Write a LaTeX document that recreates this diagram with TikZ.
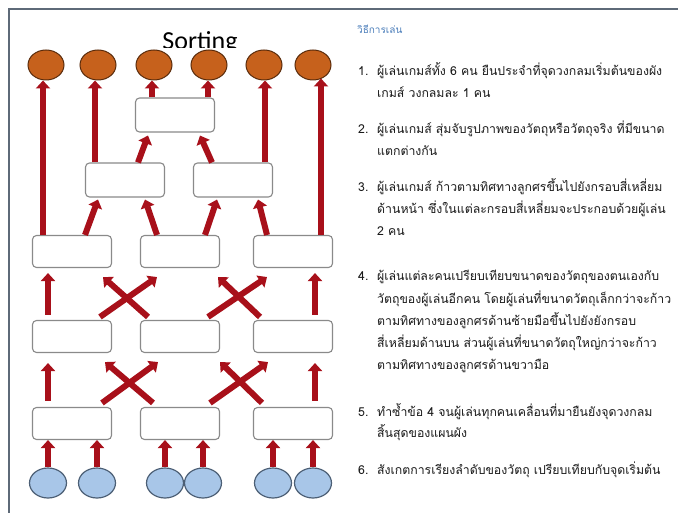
\documentclass[tikz,border=0pt]{standalone}
\usepackage{fontspec}
\setmainfont{Carlito}
\newfontfamily\thaifont[Script=Thai]{Loma}
\usetikzlibrary{arrows.meta,shapes.geometric}

\definecolor{framegray}{HTML}{5E6A78}
\definecolor{boxgray}{HTML}{8A8A8A}
\definecolor{arrowred}{HTML}{A8101A}
\definecolor{orangefill}{HTML}{C6611C}
\definecolor{orangeedge}{HTML}{5A2C0C}
\definecolor{bluefill}{HTML}{A8C6E8}
\definecolor{blueedge}{HTML}{4C5F75}
\definecolor{headblue}{HTML}{4A7DBA}
\definecolor{textgray}{HTML}{1A1A1A}

\begin{document}
\begin{tikzpicture}[x=1pt,y=-1pt,
  slot/.style={draw=boxgray, line width=1.1pt, rounded corners=4pt, fill=white,
    minimum width=79pt, minimum height=32pt, inner sep=0pt},
  finish/.style={ellipse, draw=orangeedge, fill=orangefill, line width=1pt,
    minimum width=36pt, minimum height=30pt, inner sep=0pt},
  start/.style={ellipse, draw=blueedge, fill=bluefill, line width=1.2pt,
    minimum width=37pt, minimum height=30pt, inner sep=0pt},
  ar/.style={draw=arrowred, line width=6pt, -{Triangle[width=14pt,length=8pt]}},
  numlbl/.style={anchor=base west, inner sep=0pt, text=textgray, font=\thaifont\fontsize{12.3}{14}\selectfont},
  line/.style={anchor=base west, inner sep=0pt, text=textgray, font=\thaifont\fontsize{12.3}{14}\selectfont}]
\useasboundingbox (0,0) rectangle (678,513);
\fill[white] (0,0) rectangle (678,513);

% frame
\draw[framegray, line width=1.5pt] (9,513) -- (9,9) -- (678,9);

% title (descender hidden under the top edge of the circle row)
\begin{scope}
  \clip (120,20) rectangle (280,47.5);
  \node[font=\fontsize{26}{28}\selectfont, inner sep=0pt] (title) at (200,42.5) {Sorting};
\end{scope}

% finishing circles
\node[finish] (o1) at (46,65) {};
\node[finish] (o2) at (98,65) {};
\node[finish] (o3) at (154,65) {};
\node[finish] (o4) at (209,65) {};
\node[finish] (o5) at (264,65) {};
\node[finish] (o6) at (313,65) {};

% comparison boxes
\node[slot, minimum height=34pt] (t) at (175,115) {};
\node[slot, minimum height=34pt] (r2l) at (125,180) {};
\node[slot, minimum height=34pt] (r2r) at (233,180) {};
\node[slot] (r3l) at (72,251.5) {};
\node[slot] (r3m) at (180,251.5) {};
\node[slot] (r3r) at (293,251.5) {};
\node[slot] (r4l) at (72,336.5) {};
\node[slot] (r4m) at (180,336.5) {};
\node[slot] (r4r) at (293,336.5) {};
\node[slot] (r5l) at (72,423.5) {};
\node[slot] (r5m) at (180,423.5) {};
\node[slot] (r5r) at (293,423.5) {};

% starting circles
\node[start] (b1) at (48,483) {};
\node[start] (b2) at (97,483) {};
\node[start] (b3) at (165,483) {};
\node[start] (b4) at (203,483) {};
\node[start] (b5) at (273,483) {};
\node[start] (b6) at (313,483) {};

% start -> first row
\foreach \s/\b in {b1/r5l,b2/r5l,b3/r5m,b4/r5m,b5/r5r,b6/r5r}
  \draw[ar] (\s.north) -- (\s.north |- \b.south);

% first row -> second row
\draw[ar] ([xshift=-24pt,yshift=6pt]r5l.north) -- ([xshift=-24pt,yshift=-10pt]r4l.south);
\draw[ar] ([xshift=22pt,yshift=6pt]r5r.north) -- ([xshift=22pt,yshift=-10pt]r4r.south);
\draw[ar] ([xshift=30pt,yshift=4pt]r5l.north) -- ([xshift=-22pt,yshift=-9pt]r4m.south);
\draw[ar] ([xshift=-27pt,yshift=4pt]r5m.north) -- ([xshift=33pt,yshift=-9pt]r4l.south);
\draw[ar] ([xshift=30pt,yshift=4pt]r5m.north) -- ([xshift=-25pt,yshift=-9pt]r4r.south);
\draw[ar] ([xshift=-31pt,yshift=4pt]r5r.north) -- ([xshift=40pt,yshift=-9pt]r4m.south);

% second row -> third row
\draw[ar] ([xshift=-24pt,yshift=5pt]r4l.north) -- ([xshift=-24pt,yshift=-5pt]r3l.south);
\draw[ar] ([xshift=22pt,yshift=5pt]r4r.north) -- ([xshift=22pt,yshift=-5pt]r3r.south);
\draw[ar] ([xshift=28pt,yshift=3pt]r4l.north) -- ([xshift=-23pt,yshift=-9pt]r3m.south);
\draw[ar] ([xshift=-32pt,yshift=3pt]r4m.north) -- ([xshift=31pt,yshift=-9pt]r3l.south);
\draw[ar] ([xshift=28pt,yshift=3pt]r4m.north) -- ([xshift=-26pt,yshift=-9pt]r3r.south);
\draw[ar] ([xshift=-33pt,yshift=3pt]r4r.north) -- ([xshift=38pt,yshift=-9pt]r3m.south);

% third row -> pairs
\draw[ar] ([xshift=13pt]r3l.north) -- ([xshift=-27pt,yshift=-2pt]r2l.south);
\draw[ar] ([xshift=-23pt]r3m.north) -- ([xshift=20pt,yshift=-2pt]r2l.south);
\draw[ar] ([xshift=25pt]r3m.north) -- ([xshift=-16pt,yshift=-2pt]r2r.south);
\draw[ar] ([xshift=-26pt]r3r.north) -- ([xshift=25pt,yshift=-2pt]r2r.south);

% pairs -> top box
\draw[ar] ([xshift=13pt]r2l.north) -- ([xshift=-27pt,yshift=-3pt]t.south);
\draw[ar] ([xshift=-21pt]r2r.north) -- ([xshift=25pt,yshift=-3pt]t.south);

% up to the finishing circles
\draw[ar] ([xshift=-3pt]o1.south |- r3l.north) -- ([xshift=-3pt]o1.south);
\draw[ar] ([xshift=-3pt]o2.south |- r2l.north) -- ([xshift=-3pt]o2.south);
\draw[ar] ([xshift=-2pt]o3.south |- t.north) -- ([xshift=-2pt]o3.south);
\draw[ar] ([xshift=-1pt]o4.south |- t.north) -- ([xshift=-1pt]o4.south);
\draw[ar] ([xshift=1pt]o5.south |- r2r.north) -- ([xshift=1pt]o5.south);
\draw[ar] ([xshift=8pt]o6.south |- r3r.north) -- ([xshift=8pt,yshift=2pt]o6.south);

% how to play
\node[anchor=base west, inner sep=0pt, text=headblue, font=\thaifont\fontsize{10}{12}\selectfont] (head) at (357,34) {วิธีการเล่น};

\node[numlbl] (n1) at (358,76) {1.};
\node[line] (l1a) at (377,76) {ผู้เล่นเกมส์ทั้ง 6 คน ยืนประจำที่จุดวงกลมเริ่มต้นของผัง};
\node[line] (l1b) at (377,98) {เกมส์ วงกลมละ 1 คน};

\node[numlbl] (n2) at (358,134) {2.};
\node[line] (l2a) at (377,134) {ผู้เล่นเกมส์ สุ่มจับรูปภาพของวัตถุหรือวัตถุจริง ที่มีขนาด};
\node[line] (l2b) at (377,156) {แตกต่างกัน};

\node[numlbl] (n3) at (358,192) {3.};
\node[line] (l3a) at (377,192) {ผู้เล่นเกมส์ ก้าวตามทิศทางลูกศรขึ้นไปยังกรอบสี่เหลี่ยม};
\node[line] (l3b) at (377,214) {ด้านหน้า ซึ่งในแต่ละกรอบสี่เหลี่ยมจะประกอบด้วยผู้เล่น};
\node[line] (l3c) at (377,236) {2 คน};

\node[numlbl] (n4) at (358,281) {4.};
\node[line] (l4a) at (377,281) {ผู้เล่นแต่ละคนเปรียบเทียบขนาดของวัตถุของตนเองกับ};
\node[line] (l4b) at (377,304) {วัตถุของผู้เล่นอีกคน โดยผู้เล่นที่ขนาดวัตถุเล็กกว่าจะก้าว};
\node[line] (l4c) at (377,326) {ตามทิศทางของลูกศรด้านซ้ายมือขึ้นไปยังยังกรอบ};
\node[line] (l4d) at (377,348) {สี่เหลี่ยมด้านบน ส่วนผู้เล่นที่ขนาดวัตถุใหญ่กว่าจะก้าว};
\node[line] (l4e) at (377,370) {ตามทิศทางของลูกศรด้านขวามือ};

\node[numlbl] (n5) at (358,416) {5.};
\node[line] (l5a) at (377,416) {ทำซ้ำข้อ 4 จนผู้เล่นทุกคนเคลื่อนที่มายืนยังจุดวงกลม};
\node[line] (l5b) at (377,437) {สิ้นสุดของแผนผัง};

\node[numlbl] (n6) at (358,474) {6.};
\node[line] (l6a) at (377,474) {สังเกตการเรียงลำดับของวัตถุ เปรียบเทียบกับจุดเริ่มต้น};
\end{tikzpicture}
\end{document}
